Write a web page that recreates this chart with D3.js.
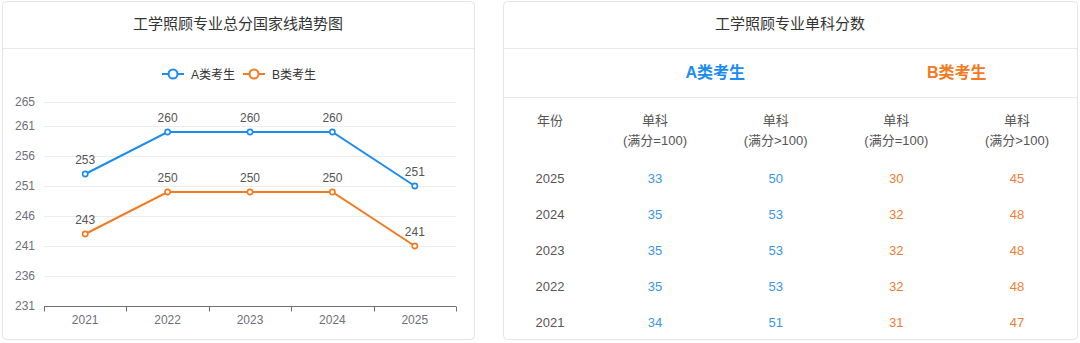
<!DOCTYPE html>
<html>
<head>
<meta charset="utf-8">
<script src="https://cdn.jsdelivr.net/npm/d3@7"></script>
<style>
  html, body { margin: 0; padding: 0; background: #fff; }
  svg { display: block; font-family: "Liberation Sans", "Noto Sans CJK SC", sans-serif; }
</style>
</head>
<body>
<svg id="chart" width="1080" height="343"></svg>
<script>
'use strict';
// chart data
const years = ["2021", "2022", "2023", "2024", "2025"];
const seriesA = [253, 260, 260, 260, 251];
const seriesB = [243, 250, 250, 250, 241];
const yTicks = [231, 236, 241, 246, 251, 256, 261, 265];
const seriesNames = ["A类考生", "B类考生"];

// table data
const tableYears = ["2025", "2024", "2023", "2022", "2021"];
const aFull100 = [33, 35, 35, 35, 34];
const aOver100 = [50, 53, 53, 53, 51];
const bFull100 = [30, 32, 32, 32, 31];
const bOver100 = [45, 48, 48, 48, 47];
const colHeads = ["(满分=100)", "(满分>100)", "(满分=100)", "(满分>100)"];

const blue = "#1c8df0", orange = "#f27a21";
const blueText = "#3a95e6", orangeText = "#ef7c35";

const svg = d3.select("#chart");

function card(x, y, w, h, title) {
    const g = svg.append("g");
    g.append("rect")
        .attr("x", x + 0.5).attr("y", y + 0.5)
        .attr("width", w).attr("height", h)
        .attr("rx", 4)
        .attr("fill", "#fff")
        .attr("stroke", "#e4e4e4");
    g.append("line")
        .attr("x1", x + 1).attr("x2", x + w)
        .attr("y1", 48.5).attr("y2", 48.5)
        .attr("stroke", "#e8e8e8");
    g.append("text")
        .attr("x", x + w / 2).attr("y", 29)
        .attr("text-anchor", "middle")
        .attr("font-size", 15)
        .attr("fill", "#333")
        .text(title);
    return g;
}

// ---- left card: line chart ----
card(2, 1, 472, 338, "工学照顾专业总分国家线趋势图");

const xs = d3.scaleBand().domain(years).range([44, 456]);
const ys = d3.scaleLinear().domain([231, 265]).range([306, 102]);

const plot = svg.append("g");
plot.selectAll(".grid")
    .data(yTicks.filter(t => t !== 231))
    .enter().append("line")
        .attr("x1", 44).attr("x2", 456)
        .attr("y1", d => Math.round(ys(d)) + 0.5)
        .attr("y2", d => Math.round(ys(d)) + 0.5)
        .attr("stroke", "#ececec");

// y labels
plot.selectAll(".ylab")
    .data(yTicks)
    .enter().append("text")
        .attr("x", 35)
        .attr("y", d => ys(d) + 4)
        .attr("text-anchor", "end")
        .attr("font-size", 12)
        .attr("fill", "#6e7079")
        .text(d => d);

// x axis
const xAxis = plot.append("g")
    .attr("transform", `translate(0, ${Math.round(ys(231)) + 0.5})`);
xAxis.append("line")
    .attr("x1", 44).attr("x2", 456)
    .attr("stroke", "#6e7079");
xAxis.selectAll(".tick")
    .data(years.concat(["end"]))
    .enter().append("line")
        .attr("x1", (d, i) => Math.round(44 + i * xs.bandwidth()) + 0.5)
        .attr("x2", (d, i) => Math.round(44 + i * xs.bandwidth()) + 0.5)
        .attr("y1", 0).attr("y2", 5)
        .attr("stroke", "#6e7079");
xAxis.selectAll(".xlab")
    .data(years)
    .enter().append("text")
        .attr("x", d => xs(d) + xs.bandwidth() / 2)
        .attr("y", 17)
        .attr("text-anchor", "middle")
        .attr("font-size", 12)
        .attr("fill", "#6e7079")
        .text(d => d);

const line = d3.line()
    .x((d, i) => xs(years[i]) + xs.bandwidth() / 2)
    .y(d => ys(d));

[[seriesA, blue], [seriesB, orange]].forEach(([vals, color]) => {
    plot.append("path")
        .attr("d", line(vals))
        .attr("fill", "none")
        .attr("stroke", color)
        .attr("stroke-width", 2);
    plot.selectAll(null)
        .data(vals)
        .enter().append("circle")
            .attr("cx", (d, i) => xs(years[i]) + xs.bandwidth() / 2)
            .attr("cy", d => ys(d))
            .attr("r", 2.6)
            .attr("fill", "#fff")
            .attr("stroke", color)
            .attr("stroke-width", 1.6);
    plot.selectAll(null)
        .data(vals)
        .enter().append("text")
            .attr("x", (d, i) => xs(years[i]) + xs.bandwidth() / 2)
            .attr("y", d => ys(d) - 10)
            .attr("text-anchor", "middle")
            .attr("font-size", 12)
            .attr("fill", "#555")
            .text(d => d);
});

// legend
const legend = svg.append("g");
[[162, blue], [243, orange]].forEach(([lx, color], i) => {
    const g = legend.append("g").attr("transform", `translate(${lx}, 74)`);
    g.append("line").attr("x1", 0).attr("x2", 22).attr("stroke", color).attr("stroke-width", 2);
    g.append("circle").attr("cx", 11).attr("r", 4.5)
        .attr("fill", "#fff").attr("stroke", color).attr("stroke-width", 2);
    g.append("text").attr("x", 29).attr("y", 4.5)
        .attr("font-size", 12).attr("fill", "#333")
        .text(seriesNames[i]);
});

// ---- right card: table ----
card(503, 1, 574, 338, "工学照顾专业单科分数");
svg.append("line")
    .attr("x1", 504).attr("x2", 1077)
    .attr("y1", 97.5).attr("y2", 97.5)
    .attr("stroke", "#e8e8e8");

const cols = d3.scalePoint().domain([0, 1, 2, 3]).range([655, 1017]);
const yearX = 550;
const rows = d3.scalePoint().domain(tableYears).range([178, 322]);

// group headers
[[seriesNames[0], blue, (cols(0) + cols(1)) / 2], [seriesNames[1], orange, (cols(2) + cols(3)) / 2]]
    .forEach(([t, c, x]) => {
        svg.append("text")
            .attr("x", x).attr("y", 78)
            .attr("text-anchor", "middle")
            .attr("font-size", 16)
            .attr("font-weight", "bold")
            .attr("fill", c)
            .text(t);
    });

const table = svg.append("g").attr("font-size", 13);
table.append("text")
    .attr("x", yearX).attr("y", 125)
    .attr("text-anchor", "middle").attr("fill", "#555")
    .text("年份");
table.selectAll(".head")
    .data(colHeads)
    .enter().append("g")
    .each(function(d, i) {
        const g = d3.select(this);
        g.append("text").attr("x", cols(i)).attr("y", 125)
            .attr("text-anchor", "middle").attr("fill", "#555").text("单科");
        g.append("text").attr("x", cols(i)).attr("y", 145)
            .attr("text-anchor", "middle").attr("fill", "#555").text(d);
    });

table.selectAll(".year")
    .data(tableYears)
    .enter().append("text")
        .attr("x", yearX).attr("y", d => rows(d) + 5)
        .attr("text-anchor", "middle").attr("fill", "#555")
        .text(d => d);

[[aFull100, blueText], [aOver100, blueText], [bFull100, orangeText], [bOver100, orangeText]]
    .forEach(([vals, color], ci) => {
        table.selectAll(null)
            .data(vals)
            .enter().append("text")
                .attr("x", cols(ci))
                .attr("y", (d, i) => rows(tableYears[i]) + 5)
                .attr("text-anchor", "middle")
                .attr("fill", color)
                .text(d => d);
    });
</script>
</body>
</html>
